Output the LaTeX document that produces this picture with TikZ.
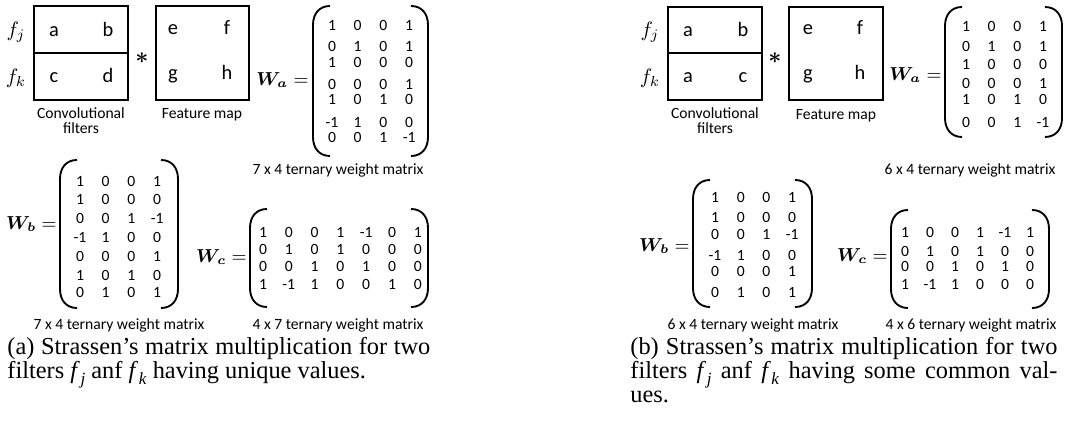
\documentclass[tikz,border=0pt]{standalone}
\usepackage{fontspec}
\setmainfont{Liberation Serif}
\newfontfamily\carl{Carlito}
\usepackage{bm}
\newcommand\fsubj[1]{\textit{f}\kern0.3pt\raisebox{-0.22em}{\fontsize{8.2}{8}\selectfont\textit{#1}}}
\tikzset{
  dig/.style={font=\carl\fontsize{7.5}{9}\selectfont, inner sep=0, anchor=center, text height=4.7pt, text depth=0pt},
  lbl/.style={font=\carl\fontsize{7.5}{9}\selectfont, inner sep=0},
  boxletter/.style={font=\carl\fontsize{9.8}{11}\selectfont, inner sep=0, anchor=base},
  flab/.style={font=\fontsize{10}{12}\selectfont, inner sep=0},
  frame/.style={draw, line width=0.8pt},
  paren/.style={line width=0.9pt},
  wlab/.style={font=\fontsize{9}{11}\selectfont, inner sep=0, anchor=east},
  captext/.style={font=\fontsize{11.7}{12}\selectfont, inner sep=0, anchor=base west},
}
\newcommand\wmat[4]{%
  \foreach \yy/\rr in {#4} {
    \foreach \vv [count=\ii] in \rr {
      \node[dig] (#1-\yy-\ii) at ({#2+(\ii-1)*#3},\yy) {\vv};
    }
  }}
\newcommand\parens[4]{%
  \draw[paren] ({#1+17},#3) .. controls ({#1+6},#3) and (#1,{#3+8}) .. (#1,{#3+19})
     -- (#1,{#4-19}) .. controls (#1,{#4-8}) and ({#1+6},#4) .. ({#1+17},#4);
  \draw[paren] ({#2-17},#3) .. controls ({#2-6},#3) and (#2,{#3+8}) .. (#2,{#3+19})
     -- (#2,{#4-19}) .. controls (#2,{#4-8}) and ({#2-6},#4) .. ({#2-17},#4);}
\begin{document}
\begin{tikzpicture}[x=0.48pt,y=-0.48pt]
\useasboundingbox (0,0) rectangle (1068,421);

% ===================== (a) =====================
\draw[frame] (34,6) rectangle (128,100);
\draw[frame] (34,53) -- (128,53);
\node[flab] (afj) at (16,32) {$f_j$};
\node[flab] (afk) at (16,78) {$f_k$};
\node[boxletter] (aa) at (54,37) {a};
\node[boxletter] (ab) at (108,37) {b};
\node[boxletter] (ac) at (54,83) {c};
\node[boxletter] (ad) at (108,83) {d};
\node[flab, font=\fontsize{11}{12}\selectfont] (aast) at (142,58) {$\bm{\ast}$};
\draw[frame] (156,6) rectangle (249,100);
\node[boxletter] (ae) at (173,35) {e};
\node[boxletter] (af) at (227,35) {f};
\node[boxletter] (ag) at (173,80) {g};
\node[boxletter] (ah) at (227,80) {h};
\node[lbl] (aconv) at (81,113) {Convolutional};
\node[lbl] (afilt) at (81,128) {filters};
\node[lbl] (afeat) at (202,115) {Feature map};

\node[wlab] (aWa) at (309,80) {$\bm{W_a} =$};
\parens{313}{428}{6}{156}
\wmat{awa}{332}{25.7}{26/{1,0,0,1},47/{0,1,0,1},63/{1,0,0,0},85/{0,0,0,1},100/{1,0,1,0},123/{-1,1,0,0},138/{0,0,1,-1}}
\node[lbl] (asa) at (338,170) {7 x 4 ternary weight matrix};

\node[wlab] (aWb) at (57,224) {$\bm{W_b} =$};
\parens{60}{178}{160}{308}
\wmat{awb}{80}{25.7}{182/{1,0,0,1},200/{1,0,0,0},219/{0,0,1,-1},238/{-1,1,0,0},257/{0,0,0,1},276/{1,0,1,0},293/{0,1,0,1}}
\node[lbl] (asb) at (119,325) {7 x 4 ternary weight matrix};

\node[wlab] (aWc) at (247,257) {$\bm{W_c} =$};
\parens{250}{428}{209}{307}
\wmat{awc}{263}{25.8}{233/{1,0,0,1,-1,0,1},250/{0,1,0,1,0,0,0},267/{0,0,1,0,1,0,0},285/{1,-1,1,0,0,1,0}}
\node[lbl] (asc) at (338,325) {4 x 7 ternary weight matrix};

\node[captext] (capa1) at (7,355) {\makebox[203pt][s]{(a) Strassen's matrix multiplication for two}};
\node[captext] (capa2) at (7,379) {filters \fsubj{j} anf \fsubj{k} having unique values.};

% ===================== (b) =====================
\draw[frame] (668,7) rectangle (762,100);
\draw[frame] (668,53) -- (762,53);
\node[flab] (bfj) at (650,32) {$f_j$};
\node[flab] (bfk) at (650,78) {$f_k$};
\node[boxletter] (ba) at (688,37) {a};
\node[boxletter] (bb) at (743,37) {b};
\node[boxletter] (ba2) at (688,83) {a};
\node[boxletter] (bc) at (743,83) {c};
\node[flab, font=\fontsize{11}{12}\selectfont] (bast) at (775,58) {$\bm{\ast}$};
\draw[frame] (789,7) rectangle (883,100);
\node[boxletter] (be) at (808,35) {e};
\node[boxletter] (bf) at (860,35) {f};
\node[boxletter] (bg) at (808,80) {g};
\node[boxletter] (bh) at (860,80) {h};
\node[lbl] (bconv) at (715,113) {Convolutional};
\node[lbl] (bfilt) at (715,128) {filters};
\node[lbl] (bfeat) at (836,116) {Feature map};

\node[wlab] (bWa) at (942,75) {$\bm{W_a} =$};
\parens{945}{1062}{7}{137}
\wmat{bwa}{966}{25.67}{27/{1,0,0,1},47/{0,1,0,1},65/{1,0,0,0},84/{0,0,0,1},100/{1,0,1,0},123/{0,0,1,-1}}
\node[lbl] (bsa) at (970,170) {6 x 4 ternary weight matrix};

\node[wlab] (bWb) at (690,246) {$\bm{W_b} =$};
\parens{693}{812}{180}{307}
\wmat{bwb}{715}{25.7}{198/{1,0,0,1},218/{1,0,0,0},235/{0,0,1,-1},256/{-1,1,0,0},272/{0,0,0,1},293/{0,1,0,1}}
\node[lbl] (bsb) at (753,325) {6 x 4 ternary weight matrix};

\node[wlab] (bWc) at (888,256) {$\bm{W_c} =$};
\parens{891}{1049}{210}{308}
\wmat{bwc}{905}{25}{233/{1,0,0,1,-1,1},252/{0,1,0,1,0,0},267/{0,0,1,0,1,0},285/{1,-1,1,0,0,0}}
\node[lbl] (bsc) at (971,325) {4 x 6 ternary weight matrix};

\node[captext] (capb1) at (630,355) {\makebox[205pt][s]{(b) Strassen's matrix multiplication for two}};
\node[captext] (capb2) at (630,379) {\makebox[205pt][s]{filters \fsubj{j} anf \fsubj{k} having some common val-}};
\node[captext] (capb3) at (630,403) {ues.};
\end{tikzpicture}
\end{document}
